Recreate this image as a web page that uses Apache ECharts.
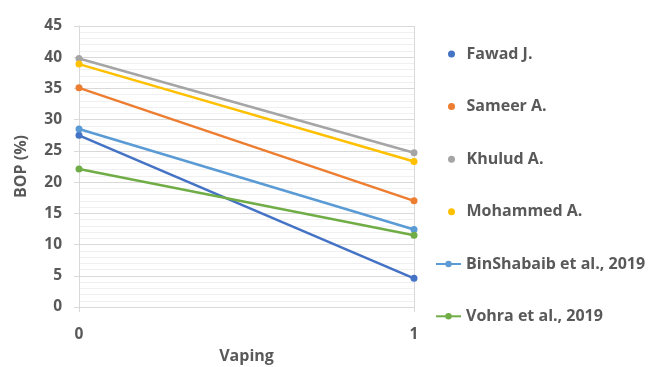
<!DOCTYPE html>
<html>
<head>
<meta charset="utf-8">
<script src="https://cdn.jsdelivr.net/npm/echarts@6/dist/echarts.min.js"></script>
<style>
  html, body { margin: 0; padding: 0; background: #fff; }
  #chart { width: 654px; height: 367px; }
</style>
</head>
<body>
<div id="chart"></div>
<script>
// Vaping status on the x axis, BOP (%) per author
const categories = ['0', '1'];
const fawad = [27.5, 4.6];
const sameer = [35.1, 17.0];
const khulud = [39.8, 24.7];
const mohammed = [38.9, 23.3];
const binShabaib = [28.5, 12.4];
const vohra = [22.1, 11.5];

const seriesNames = ['Fawad J.', 'Sameer A.', 'Khulud A.', 'Mohammed A.', 'BinShabaib et al., 2019', 'Vohra et al., 2019'];
const seriesValues = [fawad, sameer, khulud, mohammed, binShabaib, vohra];
const colors = ['#4472C4', '#ED7D31', '#A5A5A5', '#FFC000', '#5B9BD5', '#70AD47'];

const FONT = '"Open Sans", sans-serif';
const TEXT_COLOR = '#595959';

const chart = echarts.init(document.getElementById('chart'));

const legendText = {
  fontFamily: FONT, fontSize: 16, fontWeight: 'bold', color: TEXT_COLOR, lineHeight: 16
};

chart.setOption({
  animation: false,
  color: colors,
  grid: { left: 79, right: 240, top: 26, bottom: 60, containLabel: false, outerBoundsMode: 'none' },
  legend: [
    {
      orient: 'vertical',
      left: 448, top: 46,
      padding: 0,
      itemWidth: 20, itemHeight: 7,
      itemGap: 36.6,
      icon: 'circle',
      textStyle: legendText,
      data: seriesNames.slice(0, 4)
    },
    {
      orient: 'vertical',
      left: 435, top: 256,
      padding: 0,
      itemWidth: 25, itemHeight: 8,
      itemGap: 36.3,
      textStyle: legendText,
      data: seriesNames.slice(4)
    }
  ],
  xAxis: {
    type: 'category',
    data: categories,
    boundaryGap: false,
    name: 'Vaping',
    nameLocation: 'middle',
    nameGap: 41,
    nameTextStyle: { fontFamily: FONT, fontSize: 16, fontWeight: 'bold', color: TEXT_COLOR },
    axisLine: { show: false },
    axisTick: { show: true, length: 5, lineStyle: { color: '#d9d9d9' } },
    axisLabel: { margin: 20, fontFamily: FONT, fontSize: 15.5, fontWeight: 'bold', color: TEXT_COLOR },
    splitLine: { show: true, lineStyle: { color: '#d9d9d9', width: 1 } }
  },
  yAxis: {
    type: 'value',
    min: 0, max: 45, interval: 5,
    name: 'BOP (%)',
    nameLocation: 'middle',
    nameRotate: 90,
    nameGap: 50,
    nameTextStyle: { fontFamily: FONT, fontSize: 16, fontWeight: 'bold', color: TEXT_COLOR },
    axisLine: { show: true, lineStyle: { color: '#d9d9d9', width: 1 } },
    axisTick: { show: true, length: 5, lineStyle: { color: '#d9d9d9' } },
    axisLabel: { margin: 17, fontFamily: FONT, fontSize: 15.5, fontWeight: 'bold', color: TEXT_COLOR },
    splitLine: { show: true, lineStyle: { color: '#d9d9d9', width: 1 } },
    minorTick: { show: false, splitNumber: 5 },
    minorSplitLine: { show: true, lineStyle: { color: '#f0f0f0', width: 1 } }
  },
  series: seriesNames.map((name, i) => ({
    name: name,
    type: 'line',
    data: seriesValues[i],
    symbol: 'circle',
    symbolSize: 7,
    lineStyle: { width: 2.5, color: colors[i] },
    itemStyle: { color: colors[i] }
  }))
});
</script>
</body>
</html>
